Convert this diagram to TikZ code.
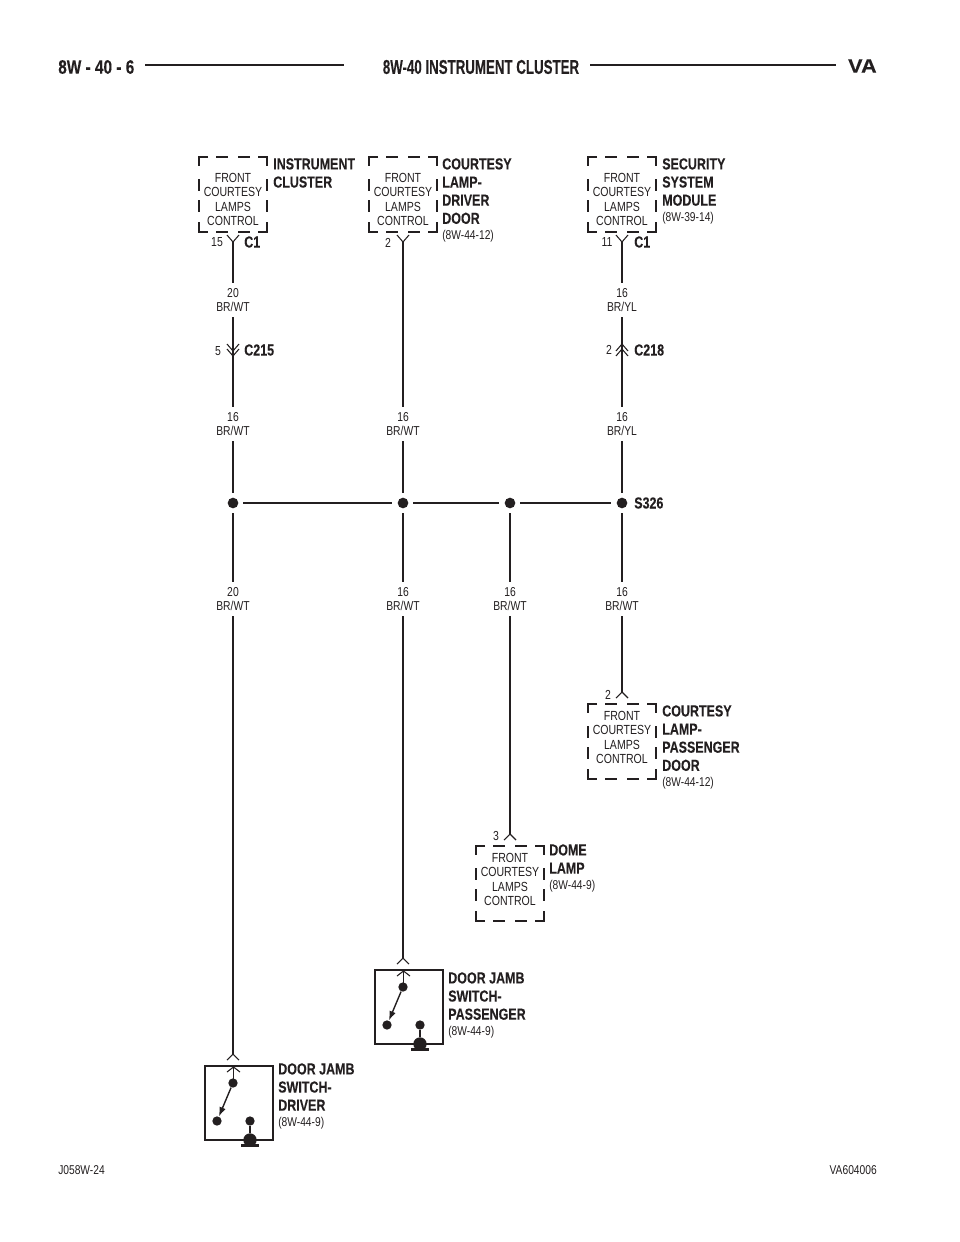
\documentclass[tikz,border=0pt]{standalone}
\usepackage{fontspec}
\setmainfont{Liberation Sans}
\newfontfamily\condf[FakeStretch=0.80]{Liberation Sans}
\newfontfamily\boldf[FakeStretch=0.78,FakeBold=0.06]{Liberation Sans Bold}
\newfontfamily\headc[FakeStretch=0.665,FakeBold=0.1]{Liberation Sans Bold}
\newfontfamily\headl[FakeStretch=0.79,FakeBold=0.1]{Liberation Sans Bold}
\newfontfamily\headr[FakeStretch=1.12,FakeBold=0.1]{Liberation Sans Bold}
\usetikzlibrary{arrows.meta}
\definecolor{ink}{RGB}{35,31,32}
\tikzset{
  x=0.75pt,y=-0.75pt,
  wire/.style={draw=ink,line width=1.05pt},
  busline/.style={draw=ink,line width=2.1pt},
  conn/.style={draw=ink,line width=0.8pt},
  dashbox/.style={draw=ink,line width=1.9pt},
  swbox/.style={draw=ink,line width=1.9pt},
  dot/.style={circle,fill=ink,inner sep=0pt,minimum size=#1},
  wirelabel/.style={font=\condf\fontsize{9.7}{10.9}\selectfont,text=ink,align=center,inner sep=0pt,outer sep=0pt},
  boxtext/.style={font=\condf\fontsize{9.9}{10.9}\selectfont,text=ink,align=center,inner sep=0pt},
  title/.style={font=\boldf\fontsize{12}{13.6}\selectfont,text=ink,align=left,anchor=north west,inner sep=0pt},
  small/.style={font=\condf\fontsize{9.6}{11}\selectfont,text=ink,inner sep=0pt},
  pin/.style={font=\condf\fontsize{9.8}{11}\selectfont,text=ink,inner sep=0pt},
  conlabel/.style={font=\boldf\fontsize{12}{13}\selectfont,text=ink,inner sep=0pt,anchor=west},
  head/.style={text=ink,inner sep=0pt},
}
\newcommand{\refsize}{\condf\fontsize{9.6}{11}\selectfont}
% dashed module box: #1 x of left, #2 y of top, #3 y of text centre below top
\newcommand{\modbox}[3]{%
  \begin{scope}[shift={(#1,#2)}]
    \draw[dashbox] (9,0)--(0,0)--(0,9);
    \draw[dashbox] (59,0)--(68,0)--(68,9);
    \draw[dashbox] (0,65)--(0,75)--(9,75);
    \draw[dashbox] (68,65)--(68,75)--(59,75);
    \draw[dashbox] (17,0)--(29,0) (39,0)--(51,0);
    \draw[dashbox] (17,75)--(29,75) (39,75)--(51,75);
    \draw[dashbox] (0,22)--(0,34) (0,43)--(0,55);
    \draw[dashbox] (68,22)--(68,34) (68,43)--(68,55);
    \node[boxtext] at (34,#3) {FRONT\\COURTESY\\LAMPS\\CONTROL};
  \end{scope}}
% door jamb switch: #1 x of left, #2 y of top
\newcommand{\jamb}[2]{%
  \begin{scope}[shift={(#1,#2)}]
    \draw[swbox] (0,0) rectangle (68,74);
    \draw[conn] (22,6)--(28.5,1)--(35,6);
    \draw[wire] (28.5,1)--(28.5,17);
    \node[dot=7pt] (a) at (28,17) {};
    \node[dot=7pt] (b) at (12,55) {};
    \node[dot=7pt] (c) at (45,55) {};
    \node[dot=10pt] (g) at (45,74) {};
    \draw[wire] (c)--(g);
    \draw[wire,-{Latex[length=7pt,width=5pt]}] (a)--(b);
    \draw[draw=ink,line width=2.2pt] (36,79.5)--(54,79.5);
    \draw[wire] (45,74)--(45,79);
  \end{scope}}
\begin{document}
\begin{tikzpicture}
\useasboundingbox (0,0) rectangle (960,1242);
% header
\node[head,anchor=west,font=\headl\fontsize{14.6}{16}\selectfont] (hl) at (58,67) {8W - 40 - 6};
\node[head,font=\headc\fontsize{15}{16}\selectfont] (hc) at (481,67) {8W-40 INSTRUMENT CLUSTER};
\node[head,anchor=east,font=\headr\fontsize{14.6}{16}\selectfont] (hr) at (877,66) {VA};
\draw[draw=ink,line width=1.9pt] (145,65)--(344,65) (590,65)--(836,65);
% modules
\modbox{199}{157}{42.5}
\modbox{369}{157}{42.5}
\modbox{588}{157}{42.5}
\modbox{588}{704}{33.5}
\modbox{476}{846}{33.5}
\node[title] (t1) at (273,158) {INSTRUMENT\\CLUSTER};
\node[title] (t2) at (442,158) {COURTESY\\LAMP-\\DRIVER\\DOOR\\[-2pt]\refsize (8W-44-12)};
\node[title] (t3) at (662,158) {SECURITY\\SYSTEM\\MODULE\\[-2pt]\refsize (8W-39-14)};
\node[title] (t4) at (662,705) {COURTESY\\LAMP-\\PASSENGER\\DOOR\\[-2pt]\refsize (8W-44-12)};
\node[title] (t5) at (549,844) {DOME\\LAMP\\[-2pt]\refsize (8W-44-9)};
\node[title] (t6) at (448,972) {DOOR JAMB\\SWITCH-\\PASSENGER\\[-2pt]\refsize (8W-44-9)};
\node[title] (t7) at (278,1063) {DOOR JAMB\\SWITCH-\\DRIVER\\[-2pt]\refsize (8W-44-9)};
% connector points
\coordinate (c1) at (233,242);
\coordinate (c2) at (403,242);
\coordinate (c3) at (622,242);
\coordinate (c215) at (233,351);
\coordinate (c218) at (622,351);
\coordinate (p1) at (622,692);
\coordinate (p2) at (510,834);
\coordinate (p3) at (403,958);
\coordinate (p4) at (233,1054);
% wire labels
\node[wirelabel] (w1) at (233,300) {20\\BR/WT};
\node[wirelabel] (w2) at (622,300) {16\\BR/YL};
\node[wirelabel] (w3) at (233,424) {16\\BR/WT};
\node[wirelabel] (w4) at (403,424) {16\\BR/WT};
\node[wirelabel] (w5) at (622,424) {16\\BR/YL};
\node[wirelabel] (w6) at (233,599) {20\\BR/WT};
\node[wirelabel] (w7) at (403,599) {16\\BR/WT};
\node[wirelabel] (w8) at (510,599) {16\\BR/WT};
\node[wirelabel] (w9) at (622,599) {16\\BR/WT};
% splices
\node[dot=8pt] (s1) at (233,503) {};
\node[dot=8pt] (s2) at (403,503) {};
\node[dot=8pt] (s3) at (510,503) {};
\node[dot=8pt] (s4) at (622,503) {};
\draw[busline] ([xshift=7.5pt]s1.center)--([xshift=-8pt]s2.center);
\draw[busline] ([xshift=7.5pt]s2.center)--([xshift=-8pt]s3.center);
\draw[busline] ([xshift=7.5pt]s3.center)--([xshift=-8.5pt]s4.center);
% wires
\path[wire] (c1)--([yshift=4.2pt]w1.north);
\path[wire] ([yshift=-4.2pt]w1.south)--(c215);
\path[wire] (c215)--([yshift=4.2pt]w3.north);
\path[wire] ([yshift=-4.2pt]w3.south)--([yshift=7.5pt]s1.center);
\path[wire] (c2)--([yshift=4.2pt]w4.north);
\path[wire] ([yshift=-4.2pt]w4.south)--([yshift=7.5pt]s2.center);
\path[wire] (c3)--([yshift=4.2pt]w2.north);
\path[wire] ([yshift=-4.2pt]w2.south)--(c218);
\path[wire] (c218)--([yshift=4.2pt]w5.north);
\path[wire] ([yshift=-4.2pt]w5.south)--([yshift=7.5pt]s4.center);
\path[wire] ([yshift=-7.5pt]s1.center)--([yshift=4.2pt]w6.north);
\path[wire] ([yshift=-7.5pt]s2.center)--([yshift=4.2pt]w7.north);
\path[wire] ([yshift=-7.5pt]s3.center)--([yshift=4.2pt]w8.north);
\path[wire] ([yshift=-7.5pt]s4.center)--([yshift=4.2pt]w9.north);
\path[wire] ([yshift=-4.2pt]w6.south)--(p4);
\path[wire] ([yshift=-4.2pt]w7.south)--(p3);
\path[wire] ([yshift=-4.2pt]w8.south)--(p2);
\path[wire] ([yshift=-4.2pt]w9.south)--(p1);
% connector glyphs
\foreach \c in {c1,c2,c3}{\draw[conn] ([shift={(-6,-7)}]\c)--(\c)--([shift={(6,-7)}]\c);}
\foreach \c in {p1,p2,p3,p4}{\draw[conn] ([shift={(-6,6)}]\c)--(\c)--([shift={(6,6)}]\c);}
\draw[conn] (227,344)--(233,351)--(239,344) (227,349)--(233,356)--(239,349);
\draw[conn] (616,351)--(622,344)--(628,351) (616,356)--(622,349)--(628,356);
% pins and connector names
\node[pin] (n1) at (217,242) {15};
\node[pin] (n2) at (388,243) {2};
\node[pin] (n3) at (607,242) {11};
\node[pin] (n4) at (218,351) {5};
\node[pin] (n5) at (609,350) {2};
\node[pin] (n6) at (608,695) {2};
\node[pin] (n7) at (496,836) {3};
\node[conlabel] (l1) at (244,242) {C1};
\node[conlabel] (l2) at (634,242) {C1};
\node[conlabel] (l3) at (244,350) {C215};
\node[conlabel] (l4) at (634,350) {C218};
\node[conlabel] (l5) at (634,503) {S326};
% switches
\jamb{205}{1066}
\jamb{375}{970}
% footer
\node[small,anchor=west] (f1) at (58,1170) {J058W-24};
\node[small,anchor=east] (f2) at (877,1170) {VA604006};
\end{tikzpicture}
\end{document}
